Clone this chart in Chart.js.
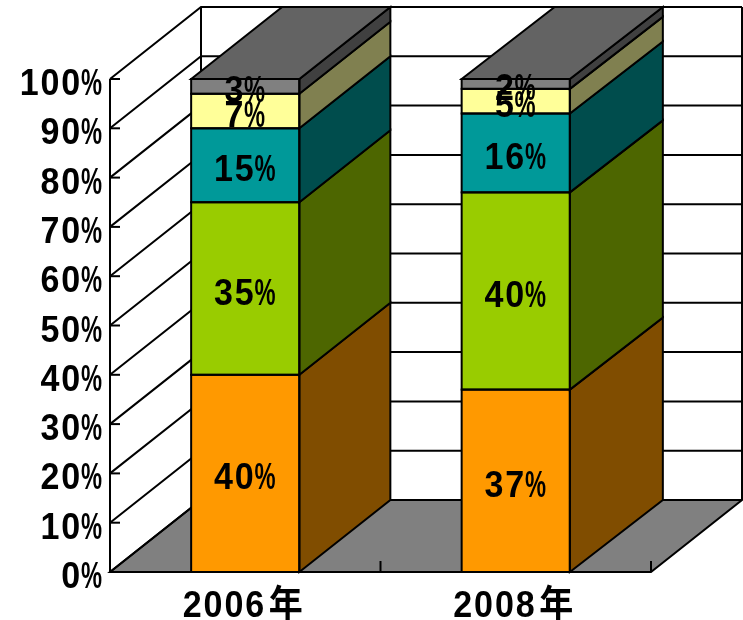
<!DOCTYPE html>
<html>
<head>
<meta charset="utf-8">
<title>2006年 / 2008年</title>
<script src="https://cdn.jsdelivr.net/npm/chart.js@4"></script>
<style>
  html, body { margin: 0; padding: 0; background: #fff; }
  canvas { display: block; }
</style>
</head>
<body>
<canvas id="chart" width="743" height="620"></canvas>
<script>
const years = ['2006年', '2008年'];
const yTicks = ['0%', '10%', '20%', '30%', '40%', '50%', '60%', '70%', '80%', '90%', '100%'];

// bottom of the stack first
const share1 = [40, 37];
const share2 = [35, 40];
const share3 = [15, 16];
const share4 = [7, 5];
const share5 = [3, 2];

const frontColors = ['#ff9900', '#99cc00', '#009999', '#ffff99', '#808080'];
const sideColors = ['#804d00', '#4d6600', '#004d4d', '#808050', '#404040'];
const topColor = '#636363';
const floorColor = '#808080';

// how far the box recedes to the back wall
const depthX = 91;
const depthY = -72;
const barDepthX = [91, 93];

const textFont = 'bold 37px "Liberation Sans", "Noto Sans CJK JP", sans-serif';
const cell = 20.8;

function poly(ctx, pts, fill) {
    ctx.beginPath();
    pts.forEach((p, i) => i ? ctx.lineTo(p[0], p[1]) : ctx.moveTo(p[0], p[1]));
    ctx.closePath();
    if (fill) {
        ctx.fillStyle = fill;
        ctx.fill();
    }
    ctx.stroke();
}

function isWide(ch) {
    return ch.charCodeAt(0) > 255;
}

function textWidth(text) {
    let w = 0;
    for (const ch of text) w += isWide(ch) ? cell * 2 : cell;
    return w;
}

// gothic style: every glyph squeezed into a fixed half width or full width cell
function monoText(ctx, text, x, baseline) {
    ctx.save();
    ctx.font = textFont;
    ctx.fillStyle = '#000';
    ctx.textAlign = 'center';
    ctx.textBaseline = 'alphabetic';
    let pos = x;
    for (const ch of text) {
        const w = isWide(ch) ? cell * 2 : cell;
        const squeeze = ch === '%' ? 0.64 : 0.92;
        ctx.save();
        ctx.translate(pos + w / 2, baseline);
        ctx.scale(squeeze, 1);
        ctx.fillText(ch, 0, 0);
        ctx.restore();
        pos += w;
    }
    ctx.restore();
}

const boxPlugin = {
    id: 'box',
    // walls, floor and gridlines, behind the bars
    beforeDatasetsDraw(chart) {
        const ctx = chart.ctx;
        const { left, right } = chart.chartArea;
        const yScale = chart.scales.y;
        const xScale = chart.scales.x;
        const y0 = yScale.getPixelForValue(0);
        ctx.save();
        ctx.strokeStyle = '#000';
        ctx.lineWidth = 2;

        poly(ctx, [[left, y0], [left + depthX, y0 + depthY], [right + depthX, y0 + depthY], [right, y0]], floorColor);

        yScale.ticks.forEach(t => {
            const y = yScale.getPixelForValue(t.value);
            ctx.beginPath();
            ctx.moveTo(left, y);
            ctx.lineTo(left + depthX, y + depthY);
            ctx.lineTo(right + depthX, y + depthY);
            ctx.stroke();
            // short tick on the front edge
            ctx.beginPath();
            ctx.moveTo(left, y);
            ctx.lineTo(left + 10, y);
            ctx.stroke();
        });

        const yTop = yScale.getPixelForValue(100);
        ctx.beginPath();
        ctx.moveTo(left + depthX, yTop + depthY);
        ctx.lineTo(left + depthX, y0 + depthY);
        ctx.moveTo(right + depthX, yTop + depthY);
        ctx.lineTo(right + depthX, y0 + depthY);
        ctx.moveTo(left, yTop);
        ctx.lineTo(left, y0);
        ctx.lineTo(right, y0);
        ctx.stroke();

        // category separators on the front edge
        const step = xScale.getPixelForValue(1) - xScale.getPixelForValue(0);
        [xScale.getPixelForValue(0) + step / 2, xScale.getPixelForValue(1) + step / 2].forEach(x => {
            ctx.beginPath();
            ctx.moveTo(x, y0);
            ctx.lineTo(x, y0 - 11);
            ctx.stroke();
        });
        ctx.restore();
    },
    // side and top faces, front outlines and all the text
    afterDatasetsDraw(chart) {
        const ctx = chart.ctx;
        const count = chart.data.datasets.length;
        const yScale = chart.scales.y;
        const xScale = chart.scales.x;
        ctx.save();
        ctx.strokeStyle = '#000';
        ctx.lineWidth = 2;
        for (let d = 0; d < count; d++) {
            chart.getDatasetMeta(d).data.forEach((bar, i) => {
                const r = bar.x + bar.width / 2;
                const dx = barDepthX[i];
                poly(ctx, [[r, bar.y], [r + dx, bar.y + depthY], [r + dx, bar.base + depthY], [r, bar.base]], sideColors[d]);
                if (d === count - 1) {
                    const l = bar.x - bar.width / 2;
                    poly(ctx, [[l, bar.y], [l + dx, bar.y + depthY], [r + dx, bar.y + depthY], [r, bar.y]], topColor);
                }
                ctx.strokeRect(bar.x - bar.width / 2, bar.y, bar.width, bar.base - bar.y);
            });
        }
        ctx.restore();

        for (let d = 0; d < count; d++) {
            chart.getDatasetMeta(d).data.forEach((bar, i) => {
                const label = chart.data.datasets[d].data[i] + '%';
                monoText(ctx, label, bar.x - 1 - textWidth(label) / 2, (bar.y + bar.base) / 2 + 16);
            });
        }
        yScale.ticks.forEach(t => {
            monoText(ctx, t.label, 102 - textWidth(t.label), yScale.getPixelForValue(t.value) + 16);
        });
        xScale.ticks.forEach((t, i) => {
            monoText(ctx, t.label, xScale.getPixelForValue(i) - 1 - textWidth(t.label) / 2, 617);
        });
    }
};

function series(name, values, i) {
    return {
        label: name,
        data: values,
        backgroundColor: frontColors[i],
        borderWidth: 0,
        barPercentage: 0.4,
        categoryPercentage: 1
    };
}

new Chart(document.getElementById('chart'), {
    type: 'bar',
    data: {
        labels: years,
        datasets: [
            series('share1', share1, 0),
            series('share2', share2, 1),
            series('share3', share3, 2),
            series('share4', share4, 3),
            series('share5', share5, 4)
        ]
    },
    options: {
        responsive: false,
        animation: false,
        layout: { padding: { top: 79, right: 92, left: 0, bottom: 0 } },
        plugins: { legend: { display: false }, tooltip: { enabled: false } },
        scales: {
            x: {
                stacked: true,
                offset: true,
                grid: { display: false },
                border: { display: false },
                ticks: { display: false, autoSkip: false },
                afterFit(scale) { scale.height = 48; }
            },
            y: {
                stacked: true,
                min: 0,
                max: 100,
                grid: { display: false },
                border: { display: false },
                afterFit(scale) { scale.width = 110; },
                ticks: {
                    display: false,
                    autoSkip: false,
                    stepSize: 10,
                    callback: (value) => yTicks[value / 10]
                }
            }
        }
    },
    plugins: [boxPlugin]
});
</script>
</body>
</html>
